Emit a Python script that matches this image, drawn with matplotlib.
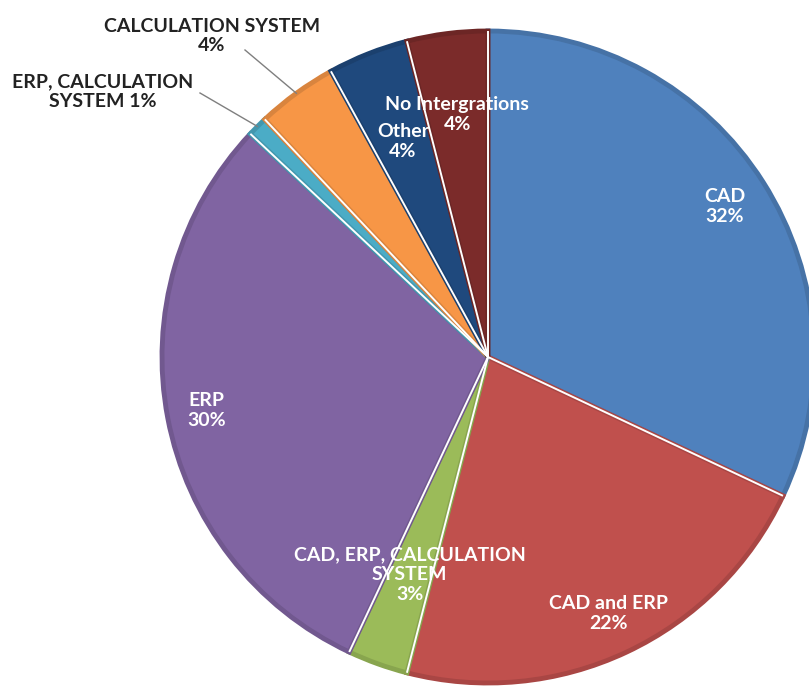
import matplotlib.pyplot as plt
import numpy as np
from matplotlib.colors import to_rgb

# slice data, clockwise from 12 o'clock
labels = ["CAD", "CAD and ERP", "CAD, ERP, CALCULATION\nSYSTEM", "ERP",
          "ERP, CALCULATION\nSYSTEM", "CALCULATION SYSTEM", "Other", "No Intergrations"]
shares = [32, 22, 3, 30, 1, 4, 4, 4]
colors = ["#4F81BD", "#C0504D", "#9BBB59", "#8064A2",
          "#4BACC6", "#F79646", "#1F497D", "#7B2B2A"]
# label distance from centre (fraction of radius) for inside labels
inside_dist = [0.86, 0.87, 0.71, 0.88, None, None, 0.71, 0.75]

W, H = 809, 688
cx, cy, R = 488, H - 357, 326

def darker(c, f=0.88):
    r, g, b = to_rgb(c)
    return (r * f, g * f, b * f)

fig = plt.figure(figsize=(W / 100, H / 100), dpi=100)
ax = fig.add_axes([0, 0, 1, 1])

wedges, _ = ax.pie(shares, colors=colors, startangle=90, counterclock=False,
                   center=(cx, cy), radius=R, frame=False,
                   wedgeprops=dict(linewidth=3.5))
for w, c in zip(wedges, colors):
    w.set_edgecolor(darker(c))

# thin white separators along the radial edges
for w in wedges:
    th = np.deg2rad(w.theta1)
    ax.plot([cx, cx + R * np.cos(th)], [cy, cy + R * np.sin(th)],
            color="white", linewidth=1.4, solid_capstyle="butt")

ax.set_xlim(0, W)
ax.set_ylim(0, H)
ax.set_aspect("equal")
ax.axis("off")

font = dict(family=["Lato", "DejaVu Sans"], fontweight="bold", fontsize=14)

for w, lab, val, d in zip(wedges, labels, shares, inside_dist):
    if d is None:
        continue
    th = np.deg2rad((w.theta1 + w.theta2) / 2)
    x = cx + d * R * np.cos(th)
    y = cy + d * R * np.sin(th)
    ax.text(x, y, f"{lab}\n{val}%", ha="center", va="center", color="white",
            linespacing=1.2, **font)

# outside labels with leader lines
outside = {4: ((103, H - 92), (200, H - 93), "ERP, CALCULATION\nSYSTEM 1%"),
           5: ((212, H - 36), (245, H - 50), "CALCULATION SYSTEM\n4%")}
for i, (tpos, lstart, txt) in outside.items():
    w = wedges[i]
    th = np.deg2rad((w.theta1 + w.theta2) / 2)
    ex, ey = cx + R * np.cos(th), cy + R * np.sin(th)
    ax.plot([lstart[0], ex], [lstart[1], ey], color="#7F7F7F", linewidth=1)
    ax.text(tpos[0], tpos[1], txt, ha="center", va="center", color="#222222",
            linespacing=1.2, **font)

fig.savefig("out.png", dpi=100)
